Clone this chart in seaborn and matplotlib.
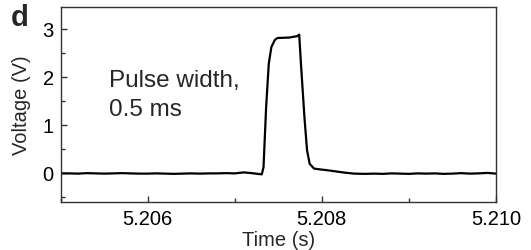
import matplotlib
matplotlib.use("Agg")
import matplotlib.pyplot as plt
import seaborn as sns
import pandas as pd
from matplotlib.ticker import MultipleLocator

# ---- data ----
time_s = [
    5.2050, 5.2051, 5.2052, 5.2053, 5.2054, 5.2055, 5.2056, 5.2057, 5.2058, 5.2059,
    5.2060, 5.2061, 5.2062, 5.2063, 5.2064, 5.2065, 5.2066, 5.2067, 5.2068, 5.2069,
    5.2070, 5.2071, 5.20717, 5.20731,
    5.20733, 5.20736, 5.20739, 5.20742, 5.20746, 5.20749, 5.20763, 5.20772, 5.20774,
    5.20776, 5.20780, 5.20783, 5.20786, 5.20791, 5.20797, 5.20807, 5.20826, 5.20837,
    5.2085, 5.2086, 5.2087, 5.2088, 5.2089, 5.2090, 5.2091, 5.2092, 5.2093, 5.2094,
    5.2095, 5.2096, 5.2097, 5.2098, 5.2099, 5.2100,
]
voltage_v = [
    -0.01, -0.01, -0.015, -0.005, -0.01, -0.015, -0.01, -0.005, -0.01, -0.015,
    -0.015, -0.01, -0.015, -0.02, -0.015, -0.01, -0.015, -0.01, -0.01, -0.005,
    -0.01, 0.01, 0.0, -0.03,
    0.12, 1.37, 2.27, 2.62, 2.77, 2.81, 2.82, 2.85, 2.88,
    2.27, 1.16, 0.47, 0.19, 0.09, 0.075, 0.054, 0.006, -0.015,
    -0.02, -0.015, -0.02, -0.01, -0.015, -0.02, -0.01, -0.015, -0.01, -0.02,
    -0.015, -0.005, -0.015, -0.01, 0.0, -0.015,
]
x_ticks = [5.206, 5.208, 5.210]
x_tick_labels = ["5.206", "5.208", "5.210"]
y_ticks = [0, 1, 2, 3]
panel_letter = "d"
annotation = "Pulse width,\n0.5 ms"

df = pd.DataFrame({"Time (s)": time_s, "Voltage (V)": voltage_v})

sns.set_style("ticks")
plt.rcParams["font.family"] = ["Liberation Sans", "DejaVu Sans"]

fig = plt.figure(figsize=(5.31, 2.51), dpi=100)
ax = fig.add_axes([0.1143, 0.1924, 0.8197, 0.7746])

sns.lineplot(data=df, x="Time (s)", y="Voltage (V)", ax=ax,
             color="black", linewidth=1.6, estimator=None, sort=False)

ax.set_xlim(5.205, 5.210)
ax.set_ylim(-0.6, 3.45)
ax.set_xticks(x_ticks)
ax.set_xticklabels(x_tick_labels)
ax.set_yticks(y_ticks)
ax.xaxis.set_minor_locator(MultipleLocator(0.001))
ax.yaxis.set_minor_locator(MultipleLocator(0.5))

for s in ["top", "right", "left", "bottom"]:
    ax.spines[s].set_visible(True)
    ax.spines[s].set_linewidth(1.0)
    ax.spines[s].set_color("#333333")

ax.tick_params(which="major", direction="in", length=4, width=1, color="#333333",
               labelsize=14.5, pad=5, labelcolor="black")
ax.tick_params(which="minor", direction="in", length=3, width=1, color="#333333")

ax.set_xlabel("Time (s)", fontsize=14.5, labelpad=2)
ax.set_ylabel("Voltage (V)", fontsize=14.5, labelpad=8)

ax.text(5.20556, 2.16, annotation, fontsize=17.5, va="top", ha="left",
        linespacing=1.38)

fig.text(11 / 531, 1 - 26 / 251, panel_letter, fontsize=21, fontweight="bold",
         va="baseline", ha="left")

fig.savefig("out.png", dpi=100)
